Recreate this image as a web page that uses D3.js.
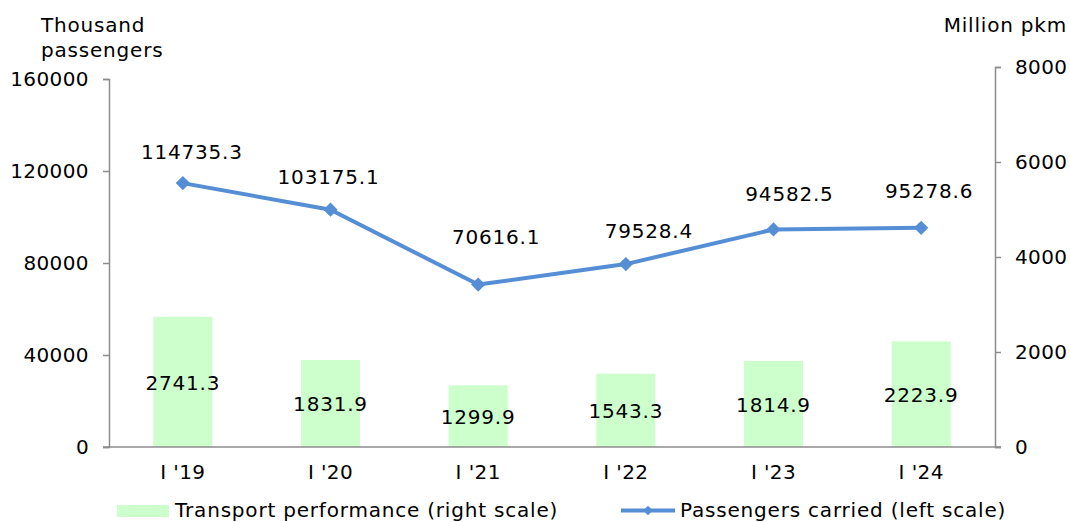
<!DOCTYPE html>
<html>
<head>
<meta charset="utf-8">
<script src="https://cdn.jsdelivr.net/npm/d3@7"></script>
<style>
  body { margin: 0; background: #fff; }
  svg { display: block; font-family: "DejaVu Sans", Verdana, sans-serif; }
  text { letter-spacing: 0.8px; }
  .tick text { letter-spacing: 0.4px; }
</style>
</head>
<body>
<svg id="chart" width="1070" height="522"></svg>
<script>
const categories = ["I '19", "I '20", "I '21", "I '22", "I '23", "I '24"];
const transportPerformance = [2741.3, 1831.9, 1299.9, 1543.3, 1814.9, 2223.9];
const passengersCarried = [114735.3, 103175.1, 70616.1, 79528.4, 94582.5, 95278.6];
const leftTicks = [0, 40000, 80000, 120000, 160000];
const rightTicks = [0, 2000, 4000, 6000, 8000];

const svg = d3.select("#chart");
const fontSize = 20;
const axisColor = "#8c8c8c";
const barColor = "#ccffcc";
const lineColor = "#558ed5";

const plotLeft = 109, plotRight = 995, plotBottom = 447;
const x = d3.scaleBand().domain(categories).range([plotLeft, plotRight]).paddingInner(0.6).paddingOuter(0.3);
const xc = d => x(d) + x.bandwidth() / 2;
const yL = d3.scaleLinear().domain([0, 160000]).range([plotBottom, 79]);
const yR = d3.scaleLinear().domain([0, 8000]).range([plotBottom, 67]);

// bars
svg.append("g").selectAll("rect").data(categories).join("rect")
  .attr("x", d => x(d))
  .attr("width", x.bandwidth())
  .attr("y", (d, i) => yR(transportPerformance[i]))
  .attr("height", (d, i) => yR(0) - yR(transportPerformance[i]))
  .attr("fill", barColor);

// axes
function styleAxis(g) {
  g.selectAll("path.domain").attr("stroke", axisColor).attr("stroke-width", 1.5);
  g.selectAll(".tick line").attr("stroke", axisColor).attr("stroke-width", 1.5);
  g.selectAll(".tick text").attr("fill", "#000").style("font-size", fontSize + "px")
    .style("font-family", "DejaVu Sans, Verdana, sans-serif");
}
const gL = svg.append("g").attr("transform", `translate(${plotLeft},0)`)
  .call(d3.axisLeft(yL).tickValues(leftTicks).tickFormat(d3.format("d")).tickSizeOuter(0).tickSize(6).tickPadding(14));
styleAxis(gL);
const gR = svg.append("g").attr("transform", `translate(${plotRight},0)`)
  .call(d3.axisRight(yR).tickValues(rightTicks).tickFormat(d3.format("d")).tickSizeOuter(0).tickSize(6).tickPadding(14));
styleAxis(gR);
const gX = svg.append("g").attr("transform", `translate(0,${plotBottom})`)
  .call(d3.axisBottom(x).tickSize(0).tickPadding(18));
styleAxis(gX);
gX.select("path.domain").remove();
svg.append("line").attr("x1", plotLeft - 6).attr("x2", plotRight + 6)
  .attr("y1", plotBottom).attr("y2", plotBottom)
  .attr("stroke", axisColor).attr("stroke-width", 1.5);

// bar labels
svg.append("g").selectAll("text").data(categories).join("text")
  .attr("x", d => xc(d))
  .attr("y", (d, i) => (yR(transportPerformance[i]) + yR(0)) / 2 + 1)
  .attr("text-anchor", "middle").attr("dominant-baseline", "central")
  .style("font-size", fontSize + "px")
  .text((d, i) => transportPerformance[i].toFixed(1));

// line
const line = d3.line().x(d => xc(d)).y((d, i) => yL(passengersCarried[i]));
svg.append("path").datum(categories).attr("d", line)
  .attr("fill", "none").attr("stroke", lineColor).attr("stroke-width", 4).attr("stroke-linejoin", "round");
const diamond = d3.symbol().type(d3.symbolDiamond2).size(130);
svg.append("g").selectAll("path").data(categories).join("path")
  .attr("d", diamond)
  .attr("transform", (d, i) => `translate(${xc(d)},${yL(passengersCarried[i])})`)
  .attr("fill", lineColor);

// line labels (hand-placed nudges relative to points)
const labelNudges = [[9, -31], [-2, -33], [18, -48], [23, -33], [16, -35], [8, -37]];
svg.append("g").selectAll("text").data(categories).join("text")
  .attr("x", (d, i) => xc(d) + labelNudges[i][0])
  .attr("y", (d, i) => yL(passengersCarried[i]) + labelNudges[i][1])
  .attr("text-anchor", "middle").attr("dominant-baseline", "central")
  .style("font-size", fontSize + "px")
  .text((d, i) => passengersCarried[i].toFixed(1));

// axis titles
svg.append("text").attr("x", 41).attr("y", 25).attr("dominant-baseline", "central")
  .style("font-size", fontSize + "px").text("Thousand");
svg.append("text").attr("x", 41).attr("y", 50).attr("dominant-baseline", "central")
  .style("font-size", fontSize + "px").text("passengers");
svg.append("text").attr("x", 1067).attr("y", 25).attr("text-anchor", "end").attr("dominant-baseline", "central")
  .style("font-size", fontSize + "px").text("Million pkm");

// legend
const leg = svg.append("g");
leg.append("rect").attr("x", 117).attr("y", 505).attr("width", 52).attr("height", 12).attr("fill", barColor);
leg.append("text").attr("x", 175).attr("y", 510).attr("dominant-baseline", "central")
  .style("font-size", fontSize + "px").text("Transport performance (right scale)");
leg.append("line").attr("x1", 621).attr("x2", 675).attr("y1", 510.5).attr("y2", 510.5)
  .attr("stroke", lineColor).attr("stroke-width", 4);
leg.append("path").attr("d", d3.symbol().type(d3.symbolDiamond2).size(60))
  .attr("transform", "translate(648,510.5)").attr("fill", lineColor);
leg.append("text").attr("x", 680).attr("y", 510).attr("dominant-baseline", "central")
  .style("font-size", fontSize + "px").text("Passengers carried (left scale)");
</script>
</body>
</html>
